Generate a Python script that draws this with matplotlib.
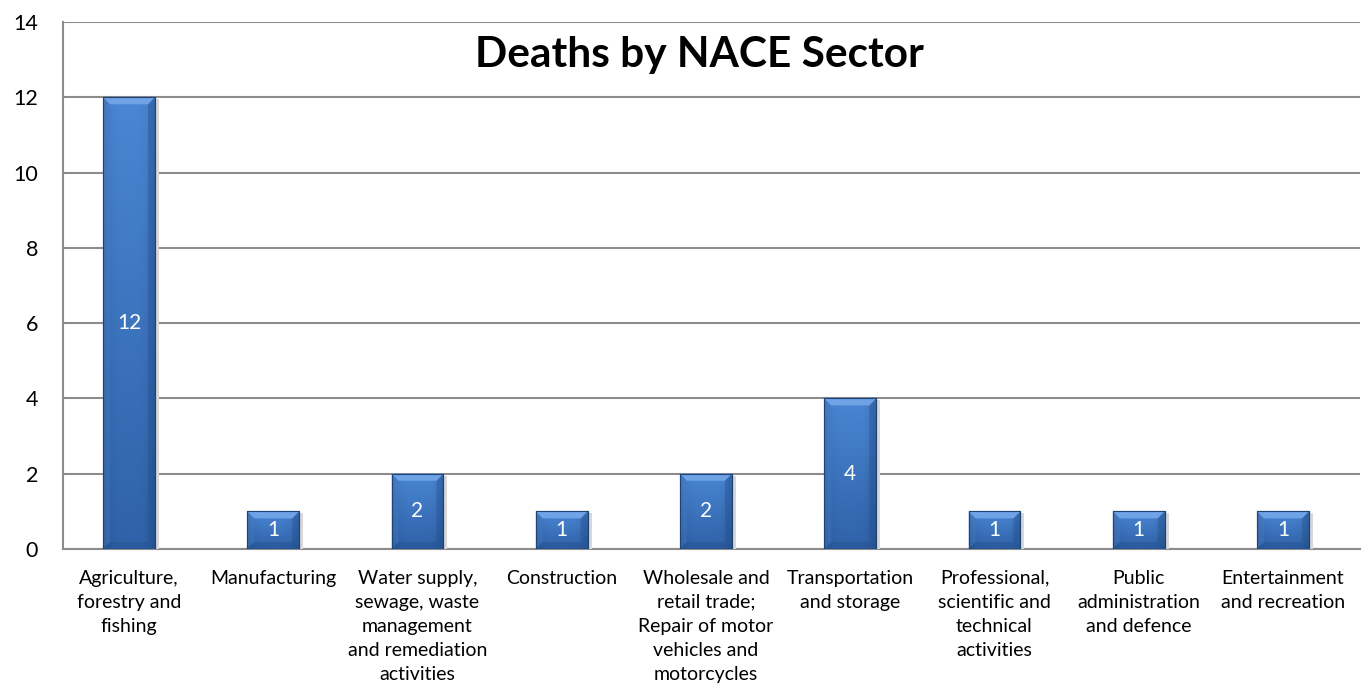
import numpy as np
import matplotlib
matplotlib.use("Agg")
import matplotlib.pyplot as plt
from matplotlib.colors import to_rgb

categories = [
    "Agriculture,\nforestry and\nfishing",
    "Manufacturing",
    "Water supply,\nsewage, waste\nmanagement\nand remediation\nactivities",
    "Construction",
    "Wholesale and\nretail trade;\nRepair of motor\nvehicles and\nmotorcycles",
    "Transportation\nand storage",
    "Professional,\nscientific and\ntechnical\nactivities",
    "Public\nadministration\nand defence",
    "Entertainment\nand recreation",
]
deaths = [12, 1, 2, 1, 2, 4, 1, 1, 1]
yticks = [0, 2, 4, 6, 8, 10, 12, 14]
title = "Deaths by NACE Sector"

plt.rcParams['font.family'] = ['Lato', 'DejaVu Sans']

W, H = 1362, 691
fig = plt.figure(figsize=(W / 100, H / 100), dpi=100)
ax = fig.add_axes([63 / W, 1 - 549 / H, 1297 / W, (549 - 22) / H])

x = np.arange(len(categories))
ax.set_xlim(-0.4575, 8.534)
ax.set_ylim(0, 14)

bars = ax.bar(x, deaths, width=0.36, color="#3b70b8", edgecolor="#1d4478",
              linewidth=0.8, zorder=3)

# pixel -> data scale
px_x = (8.534 + 0.4575) / 1297
px_y = 14 / 527
bev = 7

top_c = np.array(to_rgb("#4a86d4"))
bot_c = np.array(to_rgb("#2f62a8"))
for b in bars:
    x0, w, h = b.get_x(), b.get_width(), b.get_height()
    # shadow
    ax.add_patch(plt.Rectangle((x0 + 2 * px_x, 0), w + 2 * px_x, h - 2 * px_y,
                               color="#d8d8d8", zorder=2.9, lw=0))
    ny, nx = 100, 40
    t = np.linspace(0, 1, ny)[:, None]  # 0 top, 1 bottom
    u = np.linspace(0, 1, nx)[None, :]
    base = top_c[None, None, :] * (1 - t[..., None]) + bot_c[None, None, :] * t[..., None]
    edge = 1 - 0.15 * (np.abs(u - 0.5) * 2) ** 4
    img = base * edge[..., None]
    im = ax.imshow(np.clip(img, 0, 1), extent=[x0, x0 + w, 0, h], aspect="auto",
                   zorder=3.5, interpolation="bilinear")
    im.set_clip_path(b)
    dx, dy = bev * px_x, bev * px_y
    # top bevel (light)
    ax.fill([x0, x0 + w, x0 + w - dx, x0 + dx], [h, h, h - dy, h - dy],
            color="#6fa3e6", zorder=3.6, lw=0)
    # left bevel (slightly light)
    ax.fill([x0, x0 + dx, x0 + dx, x0], [h, h - dy, dy, 0],
            color="#4a80c8", zorder=3.55, lw=0, alpha=0.35)
    # right bevel (dark)
    ax.fill([x0 + w, x0 + w - dx, x0 + w - dx, x0 + w], [h, h - dy, dy, 0],
            color="#24518f", zorder=3.55, lw=0, alpha=0.4)
    # bottom bevel (dark)
    ax.fill([x0, x0 + w, x0 + w - dx, x0 + dx], [0, 0, dy, dy],
            color="#22508c", zorder=3.55, lw=0, alpha=0.4)
    ax.add_patch(plt.Rectangle((x0, 0), w, h, fill=False, edgecolor="#1d4478",
                               lw=0.8, zorder=3.7))

for xi, v in zip(x, deaths):
    ax.text(xi, v / 2, str(v), ha="center", va="center", color="white",
            fontsize=15, zorder=5)

ax.set_yticks(yticks)
ax.set_yticklabels([str(t) for t in yticks], fontsize=15.5)
ax.set_xticks(x)
ax.set_xticklabels(categories, fontsize=14, linespacing=1.5, va="top")
ax.tick_params(axis="both", length=0)
ax.tick_params(axis="y", pad=18)
ax.tick_params(axis="x", pad=15)
ax.grid(axis="y", color="#8c8c8c", linewidth=1.5, zorder=0)
for s in ["top", "right"]:
    ax.spines[s].set_visible(False)
for s in ["left", "bottom"]:
    ax.spines[s].set_color("#8c8c8c")
    ax.spines[s].set_linewidth(1.5)

ax.text(0.491, 0.937, title, transform=ax.transAxes, ha="center", va="center",
        fontsize=30.5, fontweight="bold")

fig.savefig("out.png", dpi=100)
